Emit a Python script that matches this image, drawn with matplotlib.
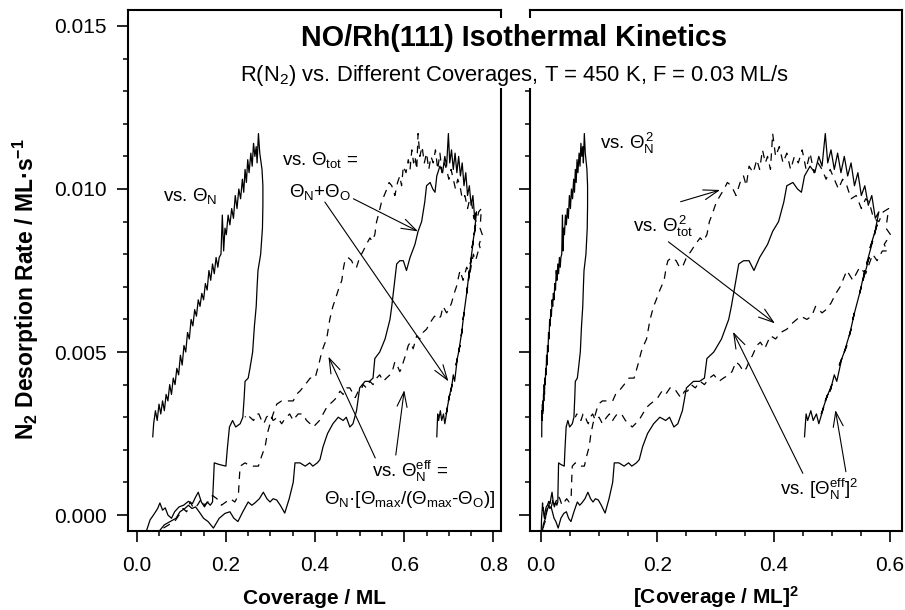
import matplotlib
matplotlib.use('Agg')
import matplotlib.pyplot as plt
from matplotlib.patches import Rectangle
from matplotlib.ticker import MultipleLocator, FormatStrFormatter
import numpy as np

plt.rcParams['font.family'] = ['Liberation Sans', 'DejaVu Sans']
plt.rcParams['mathtext.fontset'] = 'custom'
plt.rcParams['mathtext.rm'] = 'Liberation Sans'
plt.rcParams['mathtext.it'] = 'Liberation Sans:italic'
plt.rcParams['mathtext.bf'] = 'Liberation Sans:bold'

# N2 rate (ML/s) vs coverage (ML)
# vs. Theta_N (solid): rising branch, then noisy falling branch
thn_cov = [0.022, 0.030, 0.040, 0.047, 0.052, 0.058, 0.064, 0.070, 0.078, 0.085,
           0.095, 0.105, 0.116, 0.125, 0.132, 0.138, 0.145, 0.152, 0.158, 0.165,
           0.170, 0.172, 0.174, 0.185, 0.200, 0.203, 0.208, 0.215, 0.222, 0.232,
           0.238, 0.241, 0.243, 0.250, 0.254, 0.260, 0.264, 0.268, 0.270, 0.272,
           0.278, 0.282, 0.283, 0.283, 0.281, 0.278, 0.276, 0.273,
           0.270, 0.268, 0.265, 0.262, 0.259, 0.256, 0.252, 0.249, 0.246, 0.243,
           0.240, 0.237, 0.233, 0.229, 0.225, 0.221, 0.217, 0.213, 0.209, 0.205,
           0.201, 0.198, 0.195, 0.192, 0.189, 0.185, 0.182, 0.178, 0.174, 0.170,
           0.166, 0.162, 0.158, 0.154, 0.150, 0.146, 0.142, 0.138, 0.134, 0.130,
           0.126, 0.122, 0.118, 0.114, 0.110, 0.106, 0.102, 0.098, 0.094, 0.090,
           0.086, 0.082, 0.078, 0.074, 0.070, 0.066, 0.062, 0.058, 0.054, 0.050,
           0.046, 0.042, 0.038, 0.036]
thn_rate = [-0.00048, -0.00015, 0.00005, 0.0002, 0.00037, 0.00015, 0.00022, 0.0, -0.0001, 0.0001,
            0.00025, 0.0003, 0.00042, 0.00035, 0.00055, 0.0007, 0.0004, 0.00025, 0.0004, 0.0003,
            0.0004, 0.0010, 0.0016, 0.00155, 0.0015, 0.0020, 0.0027, 0.0029, 0.0027, 0.0028,
            0.0030, 0.0036, 0.0041, 0.0042, 0.0045, 0.0050, 0.0058, 0.0064, 0.0070, 0.0075,
            0.0080, 0.0088, 0.0095, 0.0101, 0.0106, 0.0109, 0.0111, 0.0117,
            0.0108, 0.0113, 0.0110, 0.0114, 0.0107, 0.0111, 0.0105, 0.0109, 0.0102, 0.0106,
            0.0099, 0.0103, 0.0097, 0.0100, 0.0094, 0.0098, 0.0091, 0.0094, 0.0089, 0.0092,
            0.0086, 0.0088, 0.0081, 0.0092, 0.0080, 0.0079, 0.0076, 0.0079, 0.0074, 0.0077,
            0.0072, 0.0075, 0.0069, 0.0071, 0.0066, 0.0068, 0.0064, 0.0066, 0.0061, 0.0063,
            0.0058, 0.0060, 0.0054, 0.0056, 0.0050, 0.0052, 0.0046, 0.0049, 0.0043, 0.0045,
            0.0040, 0.0042, 0.0037, 0.0040, 0.0035, 0.0037, 0.0032, 0.0035, 0.0031, 0.0034,
            0.0029, 0.0032, 0.0028, 0.0024]

# vs. Theta_tot (solid big loop)
tot_cov = [0.050, 0.062, 0.075, 0.088, 0.097, 0.108, 0.116, 0.124, 0.132, 0.140,
           0.150, 0.160, 0.172, 0.185, 0.198, 0.209, 0.218, 0.227, 0.238, 0.250,
           0.258, 0.265, 0.275, 0.284, 0.292, 0.299, 0.306, 0.314, 0.322, 0.332,
           0.342, 0.351, 0.355, 0.366, 0.378, 0.388, 0.395, 0.405, 0.411, 0.418,
           0.428, 0.440, 0.452, 0.463, 0.470, 0.478, 0.485, 0.493, 0.500, 0.512,
           0.522, 0.530, 0.534, 0.545, 0.557, 0.568, 0.572, 0.578, 0.583, 0.590,
           0.598, 0.605, 0.613, 0.624, 0.631, 0.639, 0.646, 0.650, 0.658, 0.664,
           0.669, 0.673, 0.680, 0.686, 0.691,
           0.695, 0.699, 0.702, 0.706, 0.710, 0.714, 0.718, 0.722, 0.726, 0.730,
           0.734, 0.738, 0.742, 0.746, 0.750, 0.754, 0.758, 0.762,
           0.757, 0.760, 0.752, 0.755, 0.748, 0.751, 0.744, 0.746, 0.740, 0.742,
           0.736, 0.738, 0.732, 0.734, 0.728, 0.730, 0.722, 0.725, 0.716, 0.719,
           0.713, 0.710, 0.705, 0.707, 0.699, 0.702, 0.694, 0.697, 0.691, 0.688,
           0.684, 0.681, 0.677, 0.675, 0.673]
tot_rate = [-0.0005, -0.0003, -0.0002, -0.0001, 0.0001, 0.0002, 0.0003, 0.0002, 0.00025, 0.0001,
            -0.0001, -0.0002, -0.0004, -0.0001, 0.00005, 0.0001, -0.0001, -0.0002, 0.0001, 0.0004,
            0.0003, 0.00037, 0.0005, 0.0007, 0.0005, 0.0004, 0.0005, 0.00046, 0.0003, 0.00006,
            0.0005, 0.0010, 0.0016, 0.0016, 0.0015, 0.0016, 0.0015, 0.0016, 0.0017, 0.0021,
            0.0025, 0.0028, 0.0030, 0.0029, 0.0030, 0.0027, 0.0028, 0.0032, 0.0039, 0.0041,
            0.0041, 0.0042, 0.0048, 0.0050, 0.0054, 0.0060, 0.0064, 0.0071, 0.0077, 0.0078,
            0.0078, 0.0075, 0.0079, 0.0083, 0.0087, 0.0090, 0.0096, 0.0101, 0.0102, 0.0100,
            0.0099, 0.0104, 0.0107, 0.0105, 0.0110,
            0.0107, 0.0117, 0.0108, 0.0112, 0.0106, 0.0111, 0.0105, 0.0110, 0.0104, 0.0108,
            0.0101, 0.0105, 0.0098, 0.0101, 0.0095, 0.0098, 0.0091, 0.0093,
            0.0086, 0.0089, 0.0082, 0.0084, 0.0077, 0.0079, 0.0072, 0.0075, 0.0068, 0.0070,
            0.0064, 0.0066, 0.0060, 0.0062, 0.0055, 0.0057, 0.0050, 0.0052, 0.0046, 0.0048,
            0.0041, 0.0043, 0.0038, 0.0040, 0.0035, 0.0037, 0.0031, 0.0033, 0.0028, 0.0031,
            0.0029, 0.0032, 0.0029, 0.0031, 0.0024]

# vs. Theta_N^eff (dashed loop)
eff_cov = [0.060, 0.072, 0.085, 0.095, 0.104, 0.112, 0.120, 0.128, 0.136, 0.145,
           0.152, 0.160, 0.170, 0.180, 0.190, 0.200, 0.210, 0.220, 0.228, 0.230,
           0.232, 0.243, 0.255, 0.265, 0.273, 0.280, 0.288, 0.293, 0.299, 0.306,
           0.314, 0.325, 0.340, 0.351, 0.358, 0.366, 0.378, 0.389, 0.400, 0.408,
           0.415, 0.420, 0.426, 0.433, 0.440, 0.445, 0.452, 0.460, 0.464, 0.467,
           0.474, 0.482, 0.488, 0.493, 0.500, 0.508, 0.515, 0.523, 0.528, 0.534,
           0.538, 0.542, 0.549, 0.555, 0.561, 0.566, 0.572, 0.579, 0.585, 0.590,
           0.594, 0.598, 0.604, 0.609, 0.613, 0.617, 0.621, 0.624, 0.628, 0.631,
           0.635, 0.640, 0.645, 0.650, 0.655, 0.660, 0.665, 0.670, 0.675, 0.680,
           0.685, 0.690, 0.695, 0.700, 0.705, 0.710, 0.715, 0.720, 0.725, 0.730,
           0.736, 0.742, 0.747, 0.751, 0.756, 0.762, 0.767, 0.773, 0.770, 0.775,
           0.768, 0.772, 0.766,
           0.760, 0.755, 0.747, 0.740, 0.732, 0.725, 0.717, 0.712, 0.706, 0.700,
           0.695, 0.687, 0.682, 0.676, 0.668, 0.658, 0.650, 0.642, 0.635, 0.628,
           0.620, 0.614, 0.609, 0.603, 0.598, 0.594, 0.590, 0.584, 0.579, 0.573,
           0.568, 0.560, 0.553, 0.545, 0.538, 0.530, 0.523, 0.515, 0.508, 0.502,
           0.497, 0.490, 0.486, 0.478, 0.471, 0.463, 0.456, 0.448, 0.441, 0.433,
           0.426, 0.418, 0.410, 0.403, 0.396, 0.389, 0.381, 0.372, 0.362, 0.356,
           0.351, 0.343, 0.336, 0.330, 0.325, 0.316, 0.306, 0.298, 0.291, 0.285,
           0.280, 0.274, 0.269, 0.262, 0.254, 0.248, 0.243]
eff_rate = [-0.0004, -0.0003, -0.0002, 0.0, 0.0002, 0.0001, 0.0004, 0.0002, 0.0003, 0.0005,
            0.0003, 0.0004, 0.0006, 0.0005, 0.0003, 0.0004, 0.0005, 0.0004, 0.0006, 0.0011,
            0.0015, 0.0016, 0.0015, 0.0015, 0.0015, 0.0018, 0.0021, 0.0025, 0.0028, 0.0031,
            0.0034, 0.0035, 0.0035, 0.0035, 0.0037, 0.0038, 0.0040, 0.0042, 0.0042, 0.0046,
            0.0050, 0.0052, 0.0054, 0.0060, 0.0064, 0.0066, 0.0069, 0.0072, 0.0076, 0.0078,
            0.0079, 0.0078, 0.0076, 0.0076, 0.0079, 0.0081, 0.0083, 0.0085, 0.0084, 0.0086,
            0.0090, 0.0092, 0.0096, 0.0098, 0.0100, 0.0102, 0.0101, 0.0098, 0.0102, 0.0104,
            0.0101, 0.0107, 0.0105, 0.0109, 0.0106, 0.0112, 0.0108, 0.0110, 0.0106, 0.0117,
            0.0110, 0.0113, 0.0108, 0.0111, 0.0106, 0.0110, 0.0108, 0.0112, 0.0106, 0.0111,
            0.0105, 0.0108, 0.0106, 0.0103, 0.0106, 0.0103, 0.0100, 0.0103, 0.0101, 0.0097,
            0.0098, 0.0094, 0.0097, 0.0096, 0.0091, 0.0090, 0.0093, 0.0094, 0.0088, 0.0086,
            0.0083, 0.0081, 0.0081,
            0.0078, 0.0080, 0.0074, 0.0076, 0.0072, 0.0075, 0.0070, 0.0068, 0.0065, 0.0063,
            0.0062, 0.0064, 0.0061, 0.0060, 0.0061, 0.0059, 0.0057, 0.0056, 0.0054, 0.0055,
            0.0051, 0.0053, 0.0052, 0.0049, 0.0047, 0.0045, 0.0044, 0.0046, 0.0047, 0.0044,
            0.0043, 0.0042, 0.0041, 0.0043, 0.0042, 0.0040, 0.0041, 0.0039, 0.0040, 0.0038,
            0.0038, 0.0036, 0.0037, 0.0039, 0.0039, 0.0037, 0.0038, 0.0036, 0.0035, 0.0034,
            0.0033, 0.0031, 0.0029, 0.0028, 0.0027, 0.0028, 0.0029, 0.0031, 0.0031, 0.0030,
            0.0029, 0.0031, 0.0030, 0.0029, 0.0028, 0.0030, 0.0029, 0.0031, 0.0030, 0.0028,
            0.0029, 0.0031, 0.0031, 0.0029, 0.0030, 0.0031, 0.0030]

xticks_left = [0.0, 0.2, 0.4, 0.6, 0.8]
xticks_right = [0.0, 0.2, 0.4, 0.6]
yticks = [0.000, 0.005, 0.010, 0.015]

fig = plt.figure(figsize=(9.05, 6.10), dpi=100)
ax1 = fig.add_axes([0.1411, 0.1295, 0.4122, 0.8541])
ax2 = fig.add_axes([0.5856, 0.1295, 0.4108, 0.8541])

lw = 0.9
dash = (0, (6, 5))
# left panel: plain coverage
ax1.plot(thn_cov, thn_rate, color='black', lw=lw)
ax1.plot(tot_cov, tot_rate, color='black', lw=lw)
ax1.plot(eff_cov, eff_rate, color='black', lw=lw, ls=dash)
# right panel: squared coverage
ax2.plot(np.array(thn_cov) ** 2, thn_rate, color='black', lw=lw)
ax2.plot(np.array(tot_cov) ** 2, tot_rate, color='black', lw=lw)
ax2.plot(np.array(eff_cov) ** 2, eff_rate, color='black', lw=lw, ls=dash)

ax1.set_xlim(-0.0202, 0.8164)
ax2.set_xlim(-0.0189, 0.620)
for ax in (ax1, ax2):
    ax.set_ylim(-0.00049, 0.01549)
    ax.set_yticks(yticks)
    ax.yaxis.set_minor_locator(MultipleLocator(0.001))
    ax.xaxis.set_minor_locator(MultipleLocator(0.05))
    ax.tick_params(which='major', direction='out', length=8, width=1.2, labelsize=15, pad=7)
    ax.tick_params(which='minor', direction='out', length=3.8, width=1.1)
    for s in ax.spines.values():
        s.set_linewidth(1.5)
ax1.set_xticks(xticks_left)
ax2.set_xticks(xticks_right)
ax1.xaxis.set_major_formatter(FormatStrFormatter('%.1f'))
ax2.xaxis.set_major_formatter(FormatStrFormatter('%.1f'))
ax1.yaxis.set_major_formatter(FormatStrFormatter('%.3f'))
ax2.tick_params(axis='y', labelleft=False)
ax1.tick_params(axis='x', pad=10)
ax2.tick_params(axis='x', pad=10)

# x labels sit on a baseline just above the bottom edge
ax1.set_xlabel('Coverage / ML', fontsize=15, fontweight='bold', va='baseline')
ax1.xaxis.set_label_coords(0.5, -(604 - 531) / 521)
ax2.set_xlabel(r'[Coverage / ML]$^\mathbf{2}$', fontsize=15, fontweight='bold', va='baseline')
ax2.xaxis.set_label_coords(0.5, -(604 - 531) / 521)
fig.text(26 / 905, 1 - 289 / 610, r'N$_\mathbf{2}$ Desorption Rate / ML·s$^\mathbf{-1}$',
         rotation=90, ha='center', va='center', fontsize=16.5, fontweight='bold')

# white block behind the heading, breaks the spines
fig.patches.append(Rectangle((235 / 905, 1 - 88 / 610), 560 / 905, 70 / 610,
                             transform=fig.transFigure, facecolor='white',
                             edgecolor='none', zorder=2))
fig.text(514 / 905, 1 - 38 / 610, 'NO/Rh(111) Isothermal Kinetics',
         ha='center', va='center', fontsize=20.7, fontweight='bold', zorder=4)
fig.text(514 / 905, 1 - 75 / 610, r'R(N$_2$) vs. Different Coverages, T = 450 K, F = 0.03 ML/s',
         ha='center', va='center', fontsize=15.8, zorder=4)

fs = 13.5
arrow = dict(arrowstyle='->, head_length=0.6, head_width=0.2', color='black', lw=0.8,
             shrinkA=0, shrinkB=0, mutation_scale=18)

# left panel labels
ax1.text(0.059, 0.0098, r'vs. $\Theta_\mathrm{N}$', fontsize=fs, ha='left', va='center')
ax1.text(0.411, 0.0109, r'vs. $\Theta_\mathrm{tot}$ =', fontsize=fs, ha='center', va='center')
ax1.text(0.411, 0.0099, r'$\Theta_\mathrm{N}$+$\Theta_\mathrm{O}$', fontsize=fs, ha='center', va='center')
ax1.annotate('', xy=(0.631, 0.0087), xytext=(0.486, 0.0097), arrowprops=arrow)
ax1.annotate('', xy=(0.699, 0.0041), xytext=(0.422, 0.0096), arrowprops=arrow)
ax1.text(0.613, 0.00133, r'vs. $\Theta_\mathrm{N}^\mathrm{eff}$ =', fontsize=fs, ha='center', va='center')
ax1.text(0.613, 0.00049,
         r'$\Theta_\mathrm{N}$·[$\Theta_\mathrm{max}$/($\Theta_\mathrm{max}$-$\Theta_\mathrm{O}$)]',
         fontsize=fs, ha='center', va='center')
ax1.annotate('', xy=(0.43, 0.00486), xytext=(0.535, 0.00175), arrowprops=arrow)
ax1.annotate('', xy=(0.60, 0.00383), xytext=(0.581, 0.00184), arrowprops=arrow)

# right panel labels
ax2.text(0.101, 0.0114, r'vs. $\Theta_\mathrm{N}^{\,2}$', fontsize=fs, ha='left', va='center')
ax2.text(0.158, 0.00884, r'vs. $\Theta_\mathrm{tot}^{\,2}$', fontsize=fs, ha='left', va='center')
ax2.annotate('', xy=(0.308, 0.00997), xytext=(0.240, 0.00961), arrowprops=arrow)
ax2.annotate('', xy=(0.402, 0.00588), xytext=(0.219, 0.00838), arrowprops=arrow)
ax2.text(0.411, 0.00077, r'vs. [$\Theta_\mathrm{N}^\mathrm{eff}$]$^2$', fontsize=fs, ha='left', va='center')
ax2.annotate('', xy=(0.33, 0.00562), xytext=(0.45, 0.00128), arrowprops=arrow)
ax2.annotate('', xy=(0.506, 0.00322), xytext=(0.524, 0.00133), arrowprops=arrow)

fig.savefig('out.png', dpi=100)
